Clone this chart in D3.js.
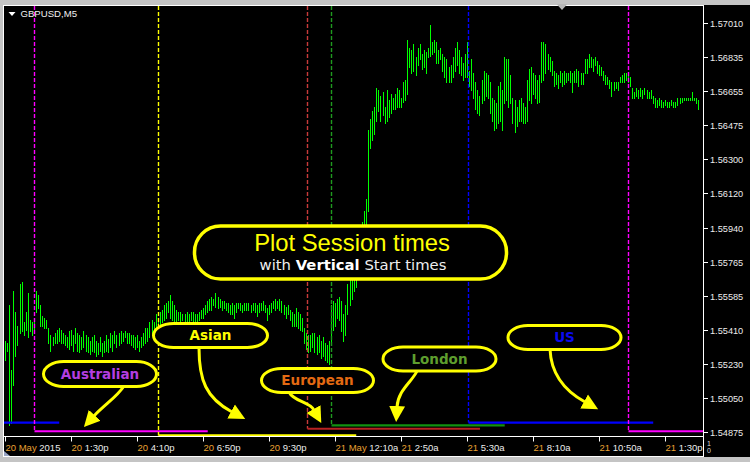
<!DOCTYPE html>
<html><head><meta charset="utf-8">
<script src="https://cdn.jsdelivr.net/npm/d3@7"></script>
<style>
html,body{margin:0;padding:0;background:#c4c4c4;}
svg{display:block;}
</style></head><body>
<svg id="chart" width="750" height="462"></svg>
<script>
// ---------------- DATA ----------------
const symbolLabel = "GBPUSD,M5";
const firstBarTime = "2015-05-20 10:50";
const barMinutes = 5;

const highs = [
1.5535,1.5534,1.5554,1.5520,1.5561,1.5550,1.5543,1.5565,1.5566,1.5545,1.5550,1.5560,1.5546,1.5545,1.5547,1.5561,1.5559,
1.5554,1.5548,1.5547,1.5546,1.5542,1.5538,1.5537,1.5539,1.5541,1.5542,1.5541,1.5539,1.5538,1.5537,1.5540,1.5541,1.5538,1.5542,1.5539,1.5538,1.5537,1.5540,1.5538,1.5537,1.5535,1.5537,1.5538,1.5535,1.5534,1.5537,1.5534,1.5535,
1.5538,1.5536,1.5539,1.5538,1.5540,1.5538,1.5539,1.5540,1.5539,1.5540,1.5539,1.5539,1.5538,1.5538,1.5537,1.5538,1.5535,1.5537,1.5539,1.5542,1.5542,1.5545,1.5546,1.5545,1.5549,1.5547,1.5550,1.5551,1.5554,1.5555,1.5556,
1.5559,1.5556,1.5554,1.5551,1.5550,1.5550,1.5549,1.5549,1.5550,1.5549,1.5550,1.5550,1.5549,1.5549,1.5550,1.5551,1.5552,1.5554,1.5556,1.5557,1.5558,1.5557,1.5560,1.5558,1.5557,1.5556,1.5556,1.5555,1.5555,1.5554,1.5555,1.5554,1.5555,
1.5555,1.5555,1.5554,1.5555,1.5555,1.5555,1.5554,1.5555,1.5555,1.5554,1.5555,1.5555,1.5556,1.5554,1.5552,1.5554,1.5555,1.5556,1.5557,1.5556,1.5557,1.5556,1.5554,1.5553,1.5554,1.5551,1.5550,1.5549,1.5552,1.5550,1.5549,1.5547,
1.5542,1.5539,1.5538,1.5538,1.5539,1.5539,1.5537,1.5538,1.5535,1.5537,1.5534,1.5533,1.5535,1.5554,1.5556,1.5555,1.5557,1.5558,1.5556,1.5549,1.5554,1.5565,1.5567,1.5569,1.5571,1.5576,1.5583,1.5590,1.5597,1.5603,1.5609,1.5645,
1.5651,1.5655,1.5657,1.5667,1.5666,1.5663,1.5665,1.5657,1.5666,1.5661,1.5664,1.5662,1.5664,1.5667,1.5666,1.5662,1.5670,1.5671,1.5692,1.5688,1.5687,1.5690,1.5683,1.5688,1.5690,1.5685,1.5687,1.5686,1.5688,1.5700,1.5691,1.5692,
1.5691,1.5687,1.5688,1.5685,1.5683,1.5682,1.5678,1.5679,1.5683,1.5688,1.5691,1.5687,1.5683,1.5680,1.5685,1.5691,1.5676,1.5682,1.5675,1.5670,1.5666,1.5663,1.5671,1.5676,1.5675,1.5674,1.5670,1.5662,1.5661,1.5659,1.5668,1.5670,
1.5666,1.5683,1.5682,1.5682,1.5674,1.5662,1.5661,1.5657,1.5661,1.5662,1.5659,1.5657,1.5671,1.5677,1.5678,1.5675,1.5674,1.5671,1.5674,1.5691,1.5691,1.5690,1.5685,1.5683,1.5681,1.5676,1.5675,1.5674,1.5676,1.5675,1.5676,1.5675,
1.5675,1.5676,1.5675,1.5676,1.5677,1.5676,1.5675,1.5675,1.5682,1.5682,1.5685,1.5683,1.5682,1.5683,1.5681,1.5679,1.5678,1.5676,1.5674,1.5673,1.5671,1.5670,1.5670,1.5670,1.5670,1.5673,1.5674,1.5675,1.5675,1.5675,1.5673,1.5667,
1.5665,1.5667,1.5666,1.5667,1.5666,1.5667,1.5666,1.5665,1.5666,1.5663,1.5662,1.5661,1.5662,1.5661,1.5660,1.5661,1.5660,1.5660,1.5661,1.5660,1.5660,1.5662,1.5662,1.5662,1.5662,1.5662,1.5662,1.5662,1.5665,1.5662,1.5662,
1.5661
];
const lows = [
1.5525,1.5530,1.5491,1.5492,1.5512,1.5527,1.5533,1.5539,1.5540,1.5538,1.5541,1.5537,1.5540,1.5538,1.5541,1.5550,1.5552,
1.5543,1.5543,1.5542,1.5542,1.5534,1.5530,1.5533,1.5534,1.5534,1.5535,1.5534,1.5534,1.5533,1.5532,1.5531,1.5533,1.5530,1.5534,1.5530,1.5529,1.5531,1.5532,1.5530,1.5529,1.5528,1.5530,1.5529,1.5527,1.5528,1.5530,1.5527,1.5529,
1.5530,1.5529,1.5532,1.5530,1.5534,1.5532,1.5533,1.5534,1.5535,1.5537,1.5534,1.5534,1.5533,1.5532,1.5531,1.5532,1.5530,1.5532,1.5533,1.5534,1.5535,1.5537,1.5538,1.5541,1.5541,1.5542,1.5543,1.5545,1.5546,1.5547,1.5550,
1.5547,1.5546,1.5545,1.5545,1.5546,1.5545,1.5546,1.5545,1.5545,1.5545,1.5546,1.5545,1.5545,1.5545,1.5546,1.5547,1.5547,1.5549,1.5550,1.5551,1.5551,1.5554,1.5553,1.5552,1.5553,1.5551,1.5552,1.5551,1.5550,1.5549,1.5549,1.5547,1.5550,
1.5552,1.5551,1.5550,1.5551,1.5551,1.5551,1.5550,1.5551,1.5550,1.5548,1.5550,1.5551,1.5551,1.5550,1.5546,1.5549,1.5550,1.5552,1.5551,1.5552,1.5551,1.5550,1.5549,1.5547,1.5549,1.5546,1.5543,1.5543,1.5543,1.5542,1.5541,1.5540,
1.5534,1.5531,1.5529,1.5530,1.5532,1.5529,1.5528,1.5529,1.5526,1.5527,1.5525,1.5524,1.5523,1.5533,1.5541,1.5543,1.5547,1.5546,1.5540,1.5535,1.5538,1.5549,1.5554,1.5557,1.5561,1.5563,1.5568,1.5576,1.5583,1.5590,1.5596,1.5603,
1.5636,1.5640,1.5643,1.5650,1.5655,1.5650,1.5653,1.5649,1.5650,1.5652,1.5654,1.5656,1.5656,1.5657,1.5657,1.5657,1.5660,1.5661,1.5664,1.5678,1.5675,1.5676,1.5674,1.5679,1.5682,1.5677,1.5678,1.5675,1.5683,1.5684,1.5685,1.5686,
1.5680,1.5680,1.5682,1.5676,1.5673,1.5670,1.5670,1.5670,1.5673,1.5676,1.5679,1.5675,1.5674,1.5671,1.5673,1.5673,1.5668,1.5666,1.5662,1.5656,1.5654,1.5653,1.5659,1.5661,1.5663,1.5662,1.5654,1.5650,1.5645,1.5646,1.5649,1.5650,
1.5645,1.5659,1.5661,1.5657,1.5659,1.5649,1.5644,1.5647,1.5650,1.5650,1.5649,1.5649,1.5650,1.5661,1.5659,1.5664,1.5662,1.5659,1.5660,1.5670,1.5671,1.5675,1.5677,1.5676,1.5674,1.5668,1.5669,1.5667,1.5670,1.5668,1.5669,1.5670,
1.5671,1.5670,1.5665,1.5670,1.5670,1.5668,1.5669,1.5669,1.5675,1.5675,1.5678,1.5678,1.5676,1.5679,1.5675,1.5674,1.5674,1.5671,1.5669,1.5669,1.5667,1.5663,1.5666,1.5667,1.5666,1.5670,1.5670,1.5670,1.5671,1.5670,1.5668,1.5662,
1.5662,1.5663,1.5662,1.5663,1.5662,1.5664,1.5662,1.5662,1.5662,1.5659,1.5657,1.5657,1.5658,1.5657,1.5657,1.5658,1.5657,1.5657,1.5658,1.5657,1.5657,1.5658,1.5659,1.5660,1.5661,1.5661,1.5661,1.5661,1.5661,1.5661,1.5659,
1.5656
];

const priceTicks = [1.57010,1.56835,1.56655,1.56475,1.56300,1.56120,1.55940,1.55765,1.55585,1.55410,1.55230,1.55050,1.54875];

// time ticks: [time, day part (orange), time part (white)]
const timeTicks = [
  ["2015-05-20 10:50","20 May","2015"],
  ["2015-05-20 13:30","20","1:30p"],
  ["2015-05-20 16:10","20","4:10p"],
  ["2015-05-20 18:50","20","6:50p"],
  ["2015-05-20 21:30","20","9:30p"],
  ["2015-05-21 00:10","21 May","12:10a"],
  ["2015-05-21 02:50","21","2:50a"],
  ["2015-05-21 05:30","21","5:30a"],
  ["2015-05-21 08:10","21","8:10a"],
  ["2015-05-21 10:50","21","10:50a"],
  ["2015-05-21 13:30","21","1:30p"]
];

const sessionNames  = ["US","Australian","Asian","European","London","US","Australian"];
const sessionStarts = ["2015-05-20 05:30","2015-05-20 12:00","2015-05-20 17:00","2015-05-20 23:00","2015-05-21 00:00","2015-05-21 05:30","2015-05-21 12:00"];
const sessionEnds   = ["2015-05-20 13:00","2015-05-20 19:00","2015-05-21 01:00","2015-05-21 06:00","2015-05-21 07:00","2015-05-21 13:00","2015-05-21 19:00"];
const sessionLevels = [1.54924,1.54879,1.54857,1.54892,1.54910,1.54924,1.54879];

// ---------------- DRAWING ----------------
const sessionColor = {US:"#0000ff",Australian:"#ff00ff",Asian:"#ffff00",European:"#b82222",London:"#119111"};
const sessionVColor = {US:"#0000ff",Australian:"#ff00ff",Asian:"#ffff00",European:"#c83a3a",London:"#1f9a1f"};

const parse = d3.timeParse("%Y-%m-%d %H:%M");
const t0 = parse(firstBarTime);
const stepMs = barMinutes*60000;
const times = highs.map((_,i)=>new Date(+t0 + i*stepMs));
const slots = 339, pxPerBar = 2.0625, x0 = 5.6;
const x = d3.scaleTime().domain([t0, new Date(+t0 + slots*stepMs)]).range([x0, x0 + slots*pxPerBar]);
const y = d3.scaleLinear().domain([1.54875,1.57010]).range([432,23]);

const svg = d3.select("#chart");
const L=3.5, T=5.5, R=703.5, B=436.5, AB=456.5;

svg.append("rect").attr("x",3).attr("y",5).attr("width",747).attr("height",452).attr("fill","#000");

const defs = svg.append("defs");
defs.append("clipPath").attr("id","plot").append("rect")
  .attr("x",4).attr("y",6).attr("width",699).attr("height",430);
const mk = defs.append("marker").attr("id","ah").attr("markerUnits","userSpaceOnUse")
  .attr("markerWidth",18).attr("markerHeight",18).attr("refX",1).attr("refY",8)
  .attr("orient","auto").attr("viewBox","0 0 18 16");
mk.append("path").attr("d","M0,0 L16,8 L0,16 Z").attr("fill","#ffff00");

const plot = svg.append("g").attr("clip-path","url(#plot)");

// bars
plot.append("g").selectAll("rect").data(highs).join("rect")
  .attr("x",(d,i)=>Math.floor(x(times[i])))
  .attr("y",d=>Math.round(y(d)))
  .attr("width",1)
  .attr("height",(d,i)=>Math.max(1,Math.round(y(lows[i]))-Math.round(y(d))+1))
  .attr("fill","#00ff00")
  .attr("shape-rendering","crispEdges");

// sessions
sessionNames.forEach((n,i)=>{
  const xs = Math.round(x(parse(sessionStarts[i])))+0.5;
  const xe = x(parse(sessionEnds[i]));
  const yl = y(sessionLevels[i]);
  plot.append("line").attr("x1",xs).attr("x2",xs).attr("y1",6).attr("y2",yl)
    .attr("stroke",sessionVColor[n]).attr("stroke-width",1.4).attr("stroke-dasharray","4,2");
  plot.append("line").attr("x1",xs).attr("x2",xe).attr("y1",yl).attr("y2",yl)
    .attr("stroke",sessionColor[n]).attr("stroke-width",2.2);
});

// frame
svg.append("rect").attr("x",L).attr("y",T).attr("width",R-L).attr("height",AB-T)
  .attr("fill","none").attr("stroke","#fff").attr("stroke-width",1);
svg.append("line").attr("x1",L).attr("x2",R).attr("y1",B).attr("y2",B).attr("stroke","#fff");

// right price axis
const ya = svg.append("g");
priceTicks.forEach(v=>{
  const yy = Math.round(y(v))+0.5;
  ya.append("line").attr("x1",704).attr("x2",708).attr("y1",yy).attr("y2",yy).attr("stroke","#fff");
  ya.append("text").attr("x",710).attr("y",yy).attr("dy","0.36em")
    .attr("font-family","Liberation Sans, Arial, sans-serif").attr("font-size",9.2)
    .attr("fill","#ececec").text(d3.format(".5f")(v));
});

// time axis
const xa = svg.append("g");
timeTicks.forEach(tk=>{
  const xx = Math.round(x(parse(tk[0])))-0.5;
  xa.append("line").attr("x1",xx).attr("x2",xx).attr("y1",B).attr("y2",B+5).attr("stroke","#fff");
  const t = xa.append("text").attr("x",xx).attr("y",451)
    .attr("font-family","Liberation Sans, Arial, sans-serif").attr("font-size",9.5);
  t.append("tspan").attr("fill","#e8a032").text(tk[1]);
  t.append("tspan").attr("fill","#ececec").text(" "+tk[2]);
});
svg.append("text").attr("x",707).attr("y",446).attr("font-size",7).attr("fill","#ddd")
  .attr("font-family","Liberation Sans, Arial, sans-serif").text("1");
svg.append("text").attr("x",707).attr("y",453).attr("font-size",7).attr("fill","#ddd")
  .attr("font-family","Liberation Sans, Arial, sans-serif").text("0");

// title & markers
svg.append("path").attr("d","M8.5,12 L15.5,12 L12,16 Z").attr("fill","#fff");
svg.append("text").attr("x",20.5).attr("y",17).attr("font-family","Liberation Sans, Arial, sans-serif")
  .attr("font-size",9.6).attr("fill","#f0f0f0").text(symbolLabel);
svg.append("path").attr("d","M556.5,4 L567.5,4 L562,10 Z").attr("fill","#b8b8b8");
svg.append("path").attr("d","M4,451 L4,456 L10,456 Z").attr("fill","#9aa6c4");

// callout arrows
const arrows = [
  "M124,386 C117,397 104,405 94,416",
  "M199,348 C199,380 206,398 232,412",
  "M289,392 C294,402 309,401 314,410",
  "M417,371 C412,382 398,390 397,407",
  "M550,349 C551,375 565,391 585,402"
];
arrows.forEach(d=>{
  svg.append("path").attr("d",d).attr("fill","none").attr("stroke","#ffff00")
    .attr("stroke-width",3).attr("marker-end","url(#ah)");
});

// main callout
svg.append("rect").attr("x",194.5).attr("y",226).attr("width",312).attr("height",53)
  .attr("rx",26).attr("ry",26).attr("fill","#000").attr("stroke","#ffff00").attr("stroke-width",3.5);
svg.append("text").attr("x",352).attr("y",251).attr("text-anchor","middle")
  .attr("font-family","Liberation Sans, Arial, sans-serif").attr("font-size",23.8)
  .attr("fill","#ffff00").text("Plot Session times");
const sub = svg.append("text").attr("x",353).attr("y",269.5).attr("text-anchor","middle")
  .attr("font-family","DejaVu Sans, Verdana, sans-serif").attr("font-size",14.8).attr("fill","#eeeeee");
sub.append("tspan").text("with ");
sub.append("tspan").attr("font-weight","bold").attr("fill","#ffffff").text("Vertical");
sub.append("tspan").text(" Start times");

// session callouts
const pills = [
  {label:"Australian", x:43.5, y:361.5, w:113, h:25, color:"#b43ee0"},
  {label:"Asian",      x:153.5, y:323.5, w:114, h:24, color:"#ffff00"},
  {label:"European",   x:261.5, y:368.5, w:112, h:24, color:"#e46a12"},
  {label:"London",     x:383,   y:347,   w:113, h:24, color:"#5e9e2e"},
  {label:"US",         x:508,   y:325.5, w:113, h:24, color:"#0a0aee"}
];
pills.forEach(p=>{
  svg.append("rect").attr("x",p.x).attr("y",p.y).attr("width",p.w).attr("height",p.h)
    .attr("rx",20).attr("ry",p.h/2).attr("fill","#000").attr("stroke","#ffff00").attr("stroke-width",3);
  svg.append("text").attr("x",p.x+p.w/2).attr("y",p.y+p.h/2+4.8).attr("text-anchor","middle")
    .attr("font-family","DejaVu Sans, Verdana, sans-serif").attr("font-weight","bold")
    .attr("font-size",13.5).attr("fill",p.color).text(p.label);
});
</script>
</body></html>
